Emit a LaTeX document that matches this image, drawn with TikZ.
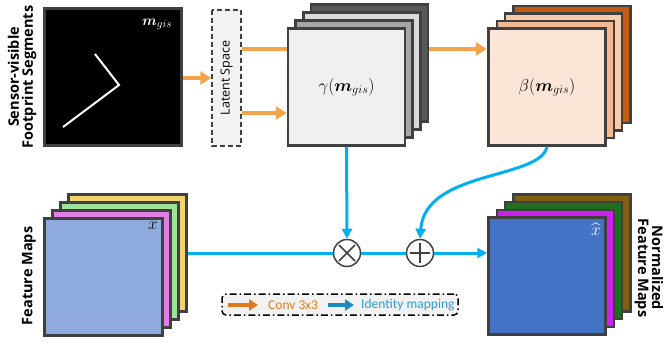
\documentclass[tikz,border=0pt]{standalone}
\usepackage{amsmath, amssymb}
\usepackage{fontspec}
\setsansfont{Open Sans}
\newfontfamily\legendfont{Carlito}
\usepackage{tikz}
\usetikzlibrary{arrows.meta}

\definecolor{frame}{HTML}{404040}
\definecolor{convorange}{HTML}{F5A34B}
\definecolor{identblue}{HTML}{00B0F0}
\definecolor{latentgray}{HTML}{F2F2F2}
\definecolor{legendorange}{HTML}{E07A1C}
\definecolor{legendblue}{HTML}{1B8CC2}
\definecolor{legendtext}{HTML}{2E9BD6}
% layer colours, front to back
\definecolor{gammaA}{HTML}{F0F0F0}
\definecolor{gammaB}{HTML}{A6A6A6}
\definecolor{gammaC}{HTML}{D9D9D9}
\definecolor{gammaD}{HTML}{595959}
\definecolor{betaA}{HTML}{FBE5D6}
\definecolor{betaB}{HTML}{F5B992}
\definecolor{betaC}{HTML}{F8CBAD}
\definecolor{betaD}{HTML}{C55A11}
\definecolor{featA}{HTML}{8FAADC}
\definecolor{featB}{HTML}{E27EE8}
\definecolor{featC}{HTML}{9FE39A}
\definecolor{featD}{HTML}{F2D46F}
\definecolor{normA}{HTML}{4472C4}
\definecolor{normB}{HTML}{CC22EE}
\definecolor{normC}{HTML}{1F6F1F}
\definecolor{normD}{HTML}{806010}

\tikzset{
	layer/.style={draw=frame, line width=2.5pt, minimum width=117pt, minimum height=117pt, inner sep=0pt},
	conv/.style={draw=convorange, line width=4pt, -{Triangle[length=11pt,width=13pt]}},
	ident/.style={draw=identblue, line width=3pt, -{Triangle[length=10pt,width=10pt]}},
	sidelabel/.style={font=\sffamily\bfseries\fontsize{14.5}{14}\selectfont, align=center},
	mathlbl/.style={font=\fontsize{17}{19}\selectfont},
	opnode/.style={circle, draw=frame, line width=1.5pt, fill=white, minimum size=27pt, inner sep=0pt},
	legendlbl/.style={anchor=west, font=\legendfont\fontsize{13.5}{15}\selectfont, inner sep=0pt},
}

\begin{document}
\begin{tikzpicture}[x=1pt, y=-1pt]
		\useasboundingbox (0,0) rectangle (665,343);
		% input segments
		\node[layer, fill=black, minimum width=137pt, minimum height=137pt] (mgis) at (113,77) {};
		\draw[white, line width=2pt] (63,127) -- (119,85) -- (95,54);
		\node[text=white, font=\fontsize{15}{17}\selectfont] (mgislbl) at (157,24) {$\boldsymbol{m}_{gis}$};
		\node[sidelabel, rotate=90] (sensorlbl) at (22,77) {Sensor-visible\\Footprint Segments};
		\node[draw=frame, dashed, dash pattern=on 5pt off 3pt, line width=1.5pt, fill=latentgray, rotate=90, minimum width=136pt, minimum height=29pt, inner sep=0pt, font=\sffamily\fontsize{12.5}{14}\selectfont] (latent) at (226.5,78) {Latent Space};
		\draw[conv] (mgis.east |- latent.north) -- (latent.north);
		% conv branch to beta, runs behind gamma
		\draw[conv] ([yshift=29pt]latent.south) -- ++(245,0) coordinate (betain);

		% gamma stack
		\foreach \i/\c in {3/gammaD,2/gammaC,1/gammaB}
			\node[layer, fill=\c, xshift=\i*7.7pt, yshift=\i*8pt] (gamma\i) at (346.5,87) {};
		\node[layer, fill=gammaA, mathlbl] (gamma) at (346.5,87) {$\gamma(\boldsymbol{m}_{gis})$};
		\draw[conv] ([yshift=-35pt]latent.south) -- ([yshift=-35pt]latent.south -| gamma.west);

		% beta stack
		\foreach \i/\c in {3/betaD,2/betaC,1/betaB}
			\node[layer, fill=\c, xshift=\i*8.3pt, yshift=\i*7.5pt] (beta\i) at (547,87) {};
		\node[layer, fill=betaA, mathlbl] (beta) at (547,87) {$\beta(\boldsymbol{m}_{gis})$};

		% operators
		\node[opnode] (mul) at (347,253) {};
		\draw[frame, line width=1.5pt] ([shift={(-8pt,-8pt)}]mul.center) -- ([shift={(8pt,8pt)}]mul.center)
			([shift={(-8pt,8pt)}]mul.center) -- ([shift={(8pt,-8pt)}]mul.center);
		\node[opnode] (add) at (420,253) {};
		\draw[frame, line width=1.5pt] ([xshift=-10pt]add.center) -- ([xshift=10pt]add.center)
			([yshift=-10pt]add.center) -- ([yshift=10pt]add.center);

		% feature maps
		\draw[identblue, line width=3pt] (mul.west -| 103.5,0) -- (mul.west);
		\foreach \i/\c in {3/featD,2/featC,1/featB}
			\node[layer, fill=\c, minimum width=118pt, xshift=\i*8pt, yshift=\i*8pt] (feat\i) at (103.5,277) {};
		\node[layer, fill=featA, minimum width=118pt] (feat) at (103.5,277) {};
		\node[mathlbl] (xlbl) at (153,226) {$x$};
		\node[sidelabel, rotate=90] (featlbl) at (29,276) {Feature Maps};

		% normalized maps
		\foreach \i/\c in {3/normD,2/normC,1/normB}
			\node[layer, fill=\c, xshift=\i*8.3pt, yshift=\i*7.7pt] (norm\i) at (547,276) {};
		\node[layer, fill=normA] (norm) at (547,276) {};
		\node[text=white, mathlbl, inner sep=1pt] (xhatlbl) at (596,229) {$\widehat{x}$};
		\node[sidelabel, rotate=-90] (normlbl) at (649,268) {Normalized\\Feature Maps};

		% identity connections
		\draw[ident] (gamma.south) -- (mul.north);
		\draw[ident] (beta.south) .. controls +(-7,33) and +(5,-69) .. (add.north);
		\draw[identblue, line width=3pt] (mul.east) -- (add.west);
		\draw[ident] (add.east) -- (add.east -| norm.west);

		% legend
		\node[draw=black, dash pattern=on 7pt off 3pt on 1.5pt off 3pt, rounded corners=4pt, line width=1.5pt, fill=latentgray, minimum width=236pt, minimum height=21pt] (legend) at (340,304.5) {};
		\node[legendlbl, text=legendorange] (convlbl) at (268,305) {Conv 3x3};
		\draw[legendorange, line width=3.5pt, -{Triangle[length=9pt,width=11pt]}] ([xshift=-40pt]convlbl.west) -- ([xshift=-10pt]convlbl.west);
		\node[legendlbl, text=legendtext] (identlbl) at (361,305) {Identity mapping};
		\draw[legendblue, line width=3.5pt, -{Triangle[length=9pt,width=11pt]}] ([xshift=-33pt]identlbl.west) -- ([xshift=-7pt]identlbl.west);
	\end{tikzpicture}
\end{document}
